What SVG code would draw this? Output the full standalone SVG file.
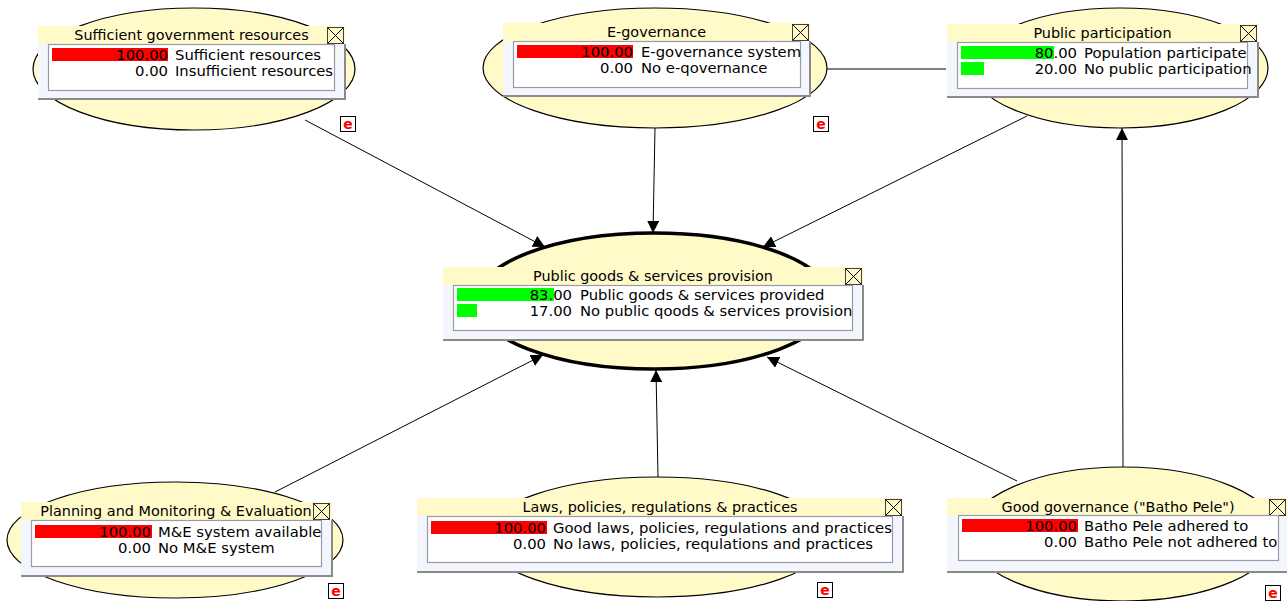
<svg xmlns="http://www.w3.org/2000/svg" width="1287" height="601" viewBox="0 0 1287 601">
<style>
.bg{fill:#ffffff}
.ell{fill:#fffac8;stroke:#000;stroke-width:1.2}
.ellc{fill:#fffac8;stroke:#000;stroke-width:3.5}
.band{fill:#fffac8}
.body{fill:#f3f6fc}
.edge{stroke:#8a8a8a;stroke-width:2;fill:none}
.inner{fill:#ffffff;stroke:#9a9aa8;stroke-width:1.2}
.close{fill:#fffac8;stroke:#404040;stroke-width:1}
.t{font-family:"DejaVu Sans","Verdana",sans-serif;font-size:14.4px;fill:#000}
.v{font-size:14.8px}
.c{text-anchor:middle}
.r{text-anchor:end}
.red{fill:#ff0000}
.green{fill:#00ff00}
.ebox{fill:#fff;stroke:#000;stroke-width:1}
.etx{font-family:"DejaVu Sans",sans-serif;font-size:14px;font-weight:bold;fill:#ff0000;text-anchor:middle}
.ln{stroke:#000;stroke-width:1;fill:none}
</style>
<defs>
<marker id="ah" markerUnits="userSpaceOnUse" markerWidth="13" markerHeight="12" refX="12" refY="6" orient="auto">
<path d="M0,0 L12,6 L0,12 z" fill="#000"/>
</marker>
</defs>
<rect class="bg" x="0" y="0" width="1287" height="601"/>

<g id="node-sufficient-resources">
<ellipse class="ell" cx="194" cy="69" rx="161" ry="61"/>
<rect class="band" x="38" y="26" width="307" height="18"/>
<rect class="body" x="38" y="44" width="307" height="56"/>
<path class="edge" d="M38,99 H345 V44"/>
<rect class="close" x="327.5" y="27.5" width="16" height="16"/>
<path class="ln" d="M327.5,27.5 L343.5,43.5 M343.5,27.5 L327.5,43.5"/>
<text class="t c" x="191.5" y="40">Sufficient government resources</text>
<rect class="inner" x="48.5" y="44.5" width="286" height="46"/>
<rect class="red" x="52" y="48" width="116" height="13"/>
<text class="t v r" x="168" y="60">100.00</text>
<text class="t v" x="175" y="60">Sufficient resources</text>
<text class="t v r" x="168" y="76">0.00</text>
<text class="t v" x="175" y="76">Insufficient resources</text>
<rect class="ebox" x="340.5" y="116.5" width="15" height="15"/>
<text class="etx" x="348" y="128.5">e</text>
</g>

<g id="node-egovernance">
<ellipse class="ell" cx="655" cy="68" rx="172" ry="60"/>
<rect class="band" x="503" y="23" width="307" height="18"/>
<rect class="body" x="503" y="41" width="307" height="56"/>
<path class="edge" d="M503,96 H810 V41"/>
<rect class="close" x="792.5" y="24.5" width="16" height="16"/>
<path class="ln" d="M792.5,24.5 L808.5,40.5 M808.5,24.5 L792.5,40.5"/>
<text class="t c" x="656.5" y="37">E-governance</text>
<rect class="inner" x="513.5" y="41.5" width="287" height="46"/>
<rect class="red" x="517" y="45" width="116" height="13"/>
<text class="t v r" x="633" y="57">100.00</text>
<text class="t v" x="641" y="57">E-governance system</text>
<text class="t v r" x="633" y="73">0.00</text>
<text class="t v" x="641" y="73">No e-qovernance</text>
<rect class="ebox" x="813.5" y="116.5" width="15" height="15"/>
<text class="etx" x="821" y="128.5">e</text>
</g>

<g id="node-public-participation">
<ellipse class="ell" cx="1120" cy="68" rx="148" ry="60"/>
<rect class="band" x="947" y="24" width="311" height="18"/>
<rect class="body" x="947" y="42" width="311" height="56"/>
<path class="edge" d="M947,97 H1258 V42"/>
<rect class="close" x="1240.5" y="25.5" width="16" height="16"/>
<path class="ln" d="M1240.5,25.5 L1256.5,41.5 M1256.5,25.5 L1240.5,41.5"/>
<text class="t c" x="1102.5" y="38">Public participation</text>
<rect class="inner" x="957.5" y="42.5" width="290" height="46"/>
<rect class="green" x="961" y="46" width="93" height="13"/>
<rect class="green" x="961" y="62" width="23" height="13"/>
<text class="t v r" x="1077" y="58">80.00</text>
<text class="t v" x="1084" y="58">Population participate</text>
<text class="t v r" x="1077" y="74">20.00</text>
<text class="t v" x="1084" y="74">No public participation</text>
</g>

<g id="node-public-goods">
<ellipse class="ellc" cx="654" cy="301" rx="178" ry="68"/>
<rect class="band" x="443" y="267" width="420" height="18"/>
<rect class="body" x="443" y="285" width="420" height="56"/>
<path class="edge" d="M443,340 H863 V285"/>
<rect class="close" x="845.5" y="268.5" width="16" height="16"/>
<path class="ln" d="M845.5,268.5 L861.5,284.5 M861.5,268.5 L845.5,284.5"/>
<text class="t c" x="653" y="281">Public goods &amp; services provision</text>
<rect class="inner" x="453.5" y="285.5" width="399" height="45"/>
<rect class="green" x="457" y="288" width="97" height="13"/>
<rect class="green" x="457" y="304" width="20" height="13"/>
<text class="t v r" x="572" y="300">83.00</text>
<text class="t v" x="580" y="300">Public goods &amp; services provided</text>
<text class="t v r" x="572" y="316">17.00</text>
<text class="t v" x="580" y="316">No public qoods &amp; services provision</text>
</g>

<g id="node-planning-me">
<ellipse class="ell" cx="175" cy="540" rx="168" ry="58"/>
<rect class="band" x="21" y="502" width="311" height="18"/>
<rect class="body" x="21" y="520" width="311" height="57"/>
<path class="edge" d="M21,576 H332 V520"/>
<rect class="close" x="313.5" y="503.5" width="16" height="16"/>
<path class="ln" d="M313.5,503.5 L329.5,519.5 M329.5,503.5 L313.5,519.5"/>
<text class="t c" x="176" y="516">Planning and Monitoring &amp; Evaluation</text>
<rect class="inner" x="31.5" y="520.5" width="290" height="46"/>
<rect class="red" x="35" y="525" width="117" height="13"/>
<text class="t v r" x="151" y="537">100.00</text>
<text class="t v" x="158" y="537">M&amp;E system available</text>
<text class="t v r" x="151" y="553">0.00</text>
<text class="t v" x="158" y="553">No M&amp;E system</text>
<rect class="ebox" x="328.5" y="583.5" width="15" height="15"/>
<text class="etx" x="336" y="595.5">e</text>
</g>

<g id="node-laws-policies">
<ellipse class="ell" cx="657" cy="537" rx="173" ry="60"/>
<rect class="band" x="417" y="498" width="486" height="18"/>
<rect class="body" x="417" y="516" width="486" height="57"/>
<path class="edge" d="M417,572 H903 V516"/>
<rect class="close" x="885.5" y="499.5" width="16" height="16"/>
<path class="ln" d="M885.5,499.5 L901.5,515.5 M901.5,499.5 L885.5,515.5"/>
<text class="t c" x="660" y="512">Laws, policies, regulations &amp; practices</text>
<rect class="inner" x="427.5" y="516.5" width="465" height="46"/>
<rect class="red" x="431" y="521" width="116" height="13"/>
<text class="t v r" x="546" y="533">100.00</text>
<text class="t v" x="553" y="533">Good laws, policies, regulations and practices</text>
<text class="t v r" x="546" y="549">0.00</text>
<text class="t v" x="553" y="549">No laws, policies, requlations and practices</text>
<rect class="ebox" x="817.5" y="582.5" width="15" height="15"/>
<text class="etx" x="825" y="594.5">e</text>
</g>

<g id="node-good-governance">
<ellipse class="ell" cx="1123" cy="534" rx="155" ry="67"/>
<rect class="band" x="947" y="498" width="342" height="18"/>
<rect class="body" x="947" y="516" width="342" height="57"/>
<path class="edge" d="M947,572 H1289"/>
<rect class="close" x="1269.5" y="499.5" width="16" height="16"/>
<path class="ln" d="M1269.5,499.5 L1285.5,515.5 M1285.5,499.5 L1269.5,515.5"/>
<text class="t c" x="1118" y="512">Good governance ("Batho Pele")</text>
<rect class="inner" x="958.5" y="515.5" width="320" height="45"/>
<rect class="red" x="962" y="519" width="116" height="13"/>
<text class="t v r" x="1077" y="531">100.00</text>
<text class="t v" x="1084" y="531">Batho Pele adhered to</text>
<text class="t v r" x="1077" y="547">0.00</text>
<text class="t v" x="1084" y="547">Batho Pele not adhered to</text>
<rect class="ebox" x="1265.5" y="585.5" width="15" height="15"/>
<text class="etx" x="1273" y="597.5">e</text>
</g>

<g id="connectors">
<line class="ln" x1="305" y1="120" x2="545" y2="247" marker-end="url(#ah)"/>
<line class="ln" x1="655" y1="128" x2="653" y2="233" marker-end="url(#ah)"/>
<line class="ln" x1="1027" y1="116" x2="763" y2="247" marker-end="url(#ah)"/>
<line class="ln" x1="275" y1="492" x2="543" y2="355" marker-end="url(#ah)"/>
<line class="ln" x1="658" y1="477" x2="656" y2="370" marker-end="url(#ah)"/>
<line class="ln" x1="1017" y1="481" x2="767" y2="357" marker-end="url(#ah)"/>
<line class="ln" x1="1123" y1="467" x2="1122" y2="128" marker-end="url(#ah)"/>
<line class="ln" x1="827" y1="69" x2="946" y2="69"/>
</g>
</svg>
